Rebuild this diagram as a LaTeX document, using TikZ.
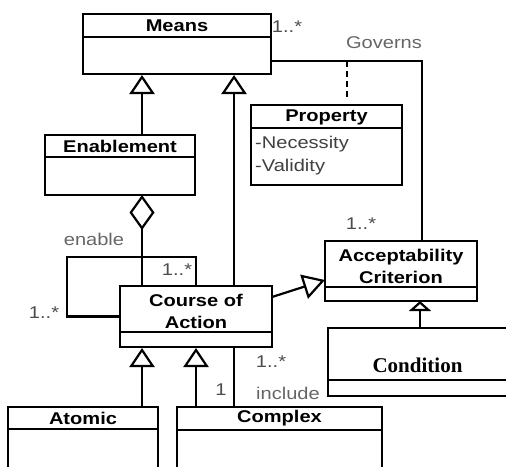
\documentclass[tikz,border=0pt]{standalone}
\usepackage{fontspec}
\newfontfamily\umlsans{Liberation Sans}[FakeStretch=1.18]
\newfontfamily\umlserif{Liberation Serif}
\usetikzlibrary{arrows.meta, positioning}

\begin{document}
\begin{tikzpicture}[x=1pt, y=-1pt,
    umlbox/.style={draw, line width=2.4pt, inner sep=0pt, outer sep=0pt},
    umltitle/.style={font=\umlsans\bfseries\fontsize{17}{22}\selectfont, align=center, inner sep=0pt},
    umlattr/.style={font=\umlsans\fontsize{17}{22}\selectfont, text=black!75, inner sep=0pt, anchor=west},
    multiplicity/.style={font=\umlsans\fontsize{17}{22}\selectfont, text=black!70, inner sep=0pt},
    link/.style={line width=2.2pt},
    generalize/.style={link, -{Triangle[open, length=19pt, width=25pt]}, shorten >=1pt},
    aggregate/.style={link, -{Diamond[open, length=35pt, width=25pt]}},
    note/.style={link, dash pattern=on 6pt off 4pt}
]
\useasboundingbox (0,0) rectangle (506,466);
\clip (0,0) rectangle (506,466);

% Define the class boxes
\node[umlbox, minimum width=188pt, minimum height=60pt] (means) at (177,44) {};
\draw[link] ([yshift=-23pt]means.north west) -- ([yshift=-23pt]means.north east);
\node[umltitle] (means-title) at (177,26) {Means};

\node[umlbox, minimum width=151pt, minimum height=80pt] (prop) at (326.5,145) {};
\draw[link] ([yshift=-23pt]prop.north west) -- ([yshift=-23pt]prop.north east);
\node[umltitle] (prop-title) at (326.5,117) {Property};
\node[umlattr] (prop-nec) at (255,144) {-Necessity};
\node[umlattr] (prop-val) at (255,167) {-Validity};

\node[umlbox, minimum width=150pt, minimum height=60pt] (enablement) at (120,165) {};
\draw[link] ([yshift=-22pt]enablement.north west) -- ([yshift=-22pt]enablement.north east);
\node[umltitle] (enablement-title) at (120,146) {Enablement};

\node[umlbox, minimum width=152pt, minimum height=61pt] (coa) at (196,316.5) {};
\draw[link] ([yshift=-46pt]coa.north west) -- ([yshift=-46pt]coa.north east);
\node[umltitle] (coa-title) at (196,311) {Course of\\Action};

\node[umlbox, minimum width=152pt, minimum height=60pt] (acc) at (401,271) {};
\draw[link] ([yshift=-46pt]acc.north west) -- ([yshift=-46pt]acc.north east);
\node[umltitle] (acc-title) at (401,266) {Acceptability\\Criterion};

\node[umlbox, minimum width=202pt, minimum height=68pt] (cond) at (429,362) {};
\draw[link] ([yshift=-52pt]cond.north west) -- ([yshift=-52pt]cond.north east);
\node[font=\umlserif\bfseries\fontsize{21}{24}\selectfont, inner sep=0pt] (cond-title) at (417.5,365) {Condition};

\node[umlbox, minimum width=150pt, minimum height=76pt] (atomic) at (83,445) {};
\draw[link] ([yshift=-22pt]atomic.north west) -- ([yshift=-22pt]atomic.north east);
\node[umltitle] (atomic-title) at (83,418) {Atomic};

\node[umlbox, minimum width=205pt, minimum height=76pt] (complex) at (279.5,445) {};
\draw[link] ([yshift=-23pt]complex.north west) -- ([yshift=-23pt]complex.north east);
\node[umltitle] (complex-title) at (279.5,418) {Complex};

% Draw the relations between classes
\draw[generalize] ([xshift=22pt]enablement.north) -- ([xshift=22pt]enablement.north |- means.south);
\draw[generalize] ([xshift=38pt]coa.north) -- ([xshift=38pt]coa.north |- means.south);
\draw[aggregate] ([xshift=-54pt]coa.north) -- ([xshift=-54pt]coa.north |- enablement.south);
\draw[link] (coa.north) -- ++(0,-29) -| ([xshift=-53pt]coa.west) |- (coa.west);
\draw[link, -{Triangle[open, length=22pt, width=25pt]}] ([yshift=19.5pt]coa.east) -- ([yshift=-9pt]acc.west);
\draw[link] ([yshift=-17pt]means.east) coordinate (gov-start) -| ([xshift=21pt]acc.north);
\draw[note, shorten >=7pt] ([xshift=20.5pt]prop.north |- gov-start) -- ([xshift=20.5pt]prop.north);
\draw[link, -{Triangle[open, length=10pt, width=22pt]}] ([xshift=19pt]acc.south |- cond.north) -- ([xshift=19pt]acc.south);
\draw[link] ([xshift=38pt]coa.south) -- ([xshift=38pt]coa.south |- complex.north);
\draw[generalize] ([xshift=-54pt]coa.south |- atomic.north) -- ([xshift=-54pt]coa.south);
\draw[generalize] (coa.south |- complex.north) -- (coa.south);

% Add multiplicities and role names
\node[multiplicity] (means-mult) at (287,27) {1..*};
\node[multiplicity, text=black!60] (governs) at (384,43) {Governs};
\node[multiplicity] (acc-mult) at (361,224) {1..*};
\node[multiplicity, text=black!60] (enable) at (94,239) {enable};
\node[multiplicity] (loop-top) at (177,270) {1..*};
\node[multiplicity] (loop-left) at (44,313) {1..*};
\node[multiplicity] (incl-one) at (221,390) {1};
\node[multiplicity] (incl-mult) at (271,362) {1..*};
\node[multiplicity, text=black!60] (include) at (288,393) {include};

\end{tikzpicture}
\end{document}
